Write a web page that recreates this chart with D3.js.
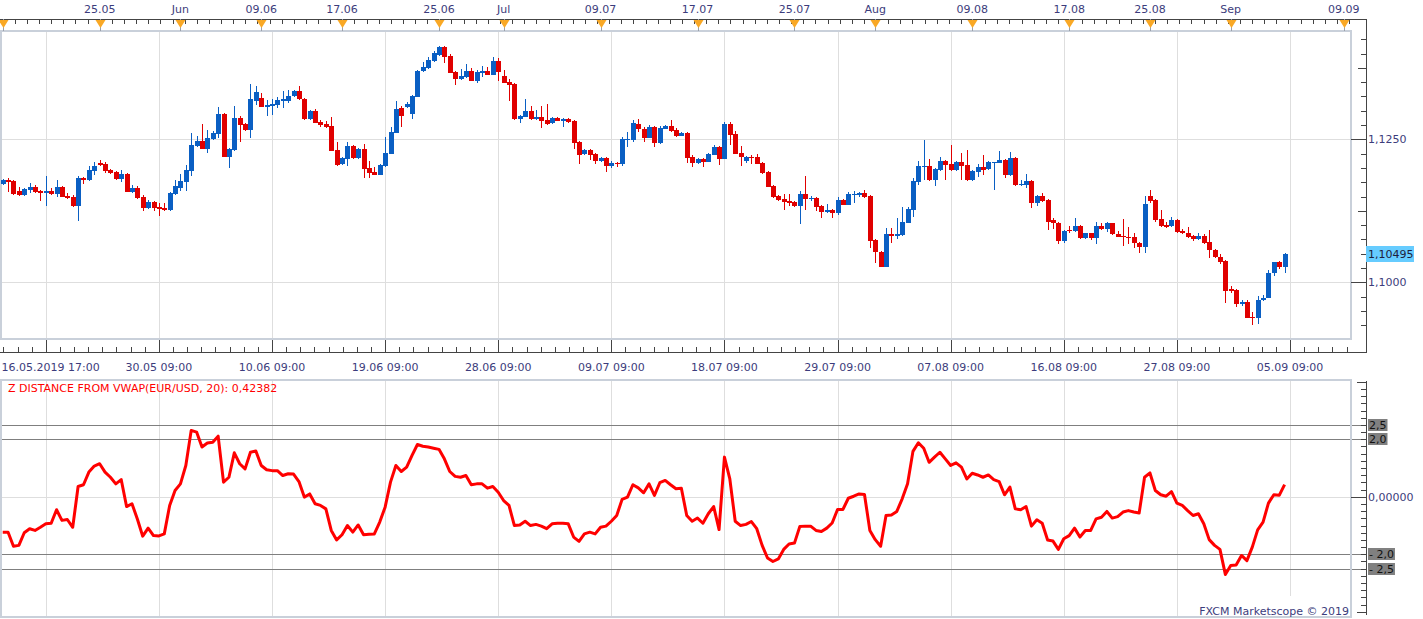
<!DOCTYPE html>
<html><head><meta charset="utf-8">
<script src="https://cdn.jsdelivr.net/npm/d3@7"></script>
<style>
body{margin:0;background:#fff}
svg{display:block}
text{font-family:"DejaVu Sans",Verdana,sans-serif;font-size:11px}
</style>
</head><body>
<svg id="c" width="1423" height="619"></svg>
<script>
// ---------------- DATA ----------------
const opens = [1.11717,1.11787,1.11770,1.11595,1.11525,1.11612,1.11665,1.11595,1.11560,1.11595,1.11542,1.11665,1.11507,1.11490,1.11332,1.11827,1.11787,1.11945,1.12090,1.12067,1.11962,1.11932,1.11805,1.11892,1.11577,1.11647,1.11490,1.11297,1.11407,1.11315,1.11297,1.11262,1.11542,1.11647,1.11752,1.11945,1.12382,1.12470,1.12330,1.12505,1.12592,1.12942,1.12195,1.12312,1.12877,1.12767,1.12662,1.13170,1.13222,1.13070,1.13082,1.13100,1.13175,1.13170,1.13257,1.13345,1.13205,1.12855,1.12995,1.12807,1.12767,1.12732,1.12312,1.12067,1.12160,1.12382,1.12177,1.12330,1.11997,1.11927,1.11880,1.12032,1.12247,1.12615,1.13052,1.13070,1.12937,1.13245,1.13700,1.13747,1.13870,1.13975,1.14120,1.13957,1.13682,1.13555,1.13584,1.13695,1.13525,1.13665,1.13700,1.13630,1.13870,1.13607,1.13507,1.13467,1.12849,1.12895,1.12995,1.12849,1.12884,1.12837,1.12779,1.12872,1.12825,1.12855,1.12820,1.12452,1.12247,1.12312,1.12242,1.12120,1.12172,1.12032,1.12090,1.12072,1.12487,1.12492,1.12767,1.12674,1.12527,1.12720,1.12440,1.12685,1.12737,1.12662,1.12562,1.12610,1.12190,1.12090,1.12155,1.12107,1.12230,1.12365,1.12160,1.12762,1.12592,1.12265,1.12120,1.12190,1.12190,1.12085,1.11932,1.11682,1.11507,1.11455,1.11420,1.11402,1.11332,1.11542,1.11455,1.11472,1.11332,1.11232,1.11262,1.11215,1.11437,1.11355,1.11525,1.11530,1.11565,1.11507,1.10737,1.10527,1.10270,1.10842,1.10812,1.10819,1.11040,1.11262,1.11752,1.12020,1.12032,1.11787,1.11962,1.12120,1.12072,1.11962,1.12102,1.12050,1.11787,1.11932,1.12015,1.11980,1.12090,1.12090,1.12137,1.11875,1.12172,1.11700,1.11700,1.11770,1.11379,1.11507,1.11437,1.11087,1.11029,1.10725,1.10912,1.10895,1.10982,1.10767,1.10854,1.10767,1.10982,1.10924,1.11029,1.10842,1.10812,1.10795,1.10784,1.10679,1.10620,1.11507,1.11437,1.11105,1.11005,1.10982,1.11087,1.10895,1.10865,1.10812,1.10755,1.10807,1.10707,1.10562,1.10445,1.10375,1.09880,1.09862,1.09629,1.09652,1.09395,1.09384,1.09699,1.09727,1.10154,1.10347,1.10259];
const highs = [1.11805,1.11822,1.11787,1.11665,1.11647,1.11735,1.11700,1.11612,1.11857,1.11647,1.11787,1.11682,1.11560,1.11525,1.11857,1.11845,1.12032,1.12102,1.12137,1.12107,1.11980,1.11945,1.11962,1.11910,1.11700,1.11682,1.11525,1.11437,1.11420,1.11390,1.11379,1.11577,1.11787,1.11892,1.12050,1.12610,1.12562,1.12767,1.12662,1.12645,1.13065,1.12960,1.12347,1.13082,1.12907,1.12785,1.13467,1.13432,1.13310,1.13187,1.13210,1.13240,1.13350,1.13362,1.13362,1.13432,1.13222,1.13012,1.13030,1.12837,1.12825,1.12890,1.12452,1.12190,1.12452,1.12400,1.12347,1.12417,1.12120,1.12015,1.12067,1.12540,1.12720,1.13170,1.13082,1.13152,1.13275,1.13712,1.13857,1.13940,1.14045,1.14132,1.14132,1.13992,1.13695,1.13724,1.13812,1.13747,1.13712,1.13782,1.13770,1.13945,1.13917,1.13712,1.13560,1.13485,1.12925,1.13205,1.13082,1.13012,1.13082,1.13117,1.12890,1.12890,1.12872,1.12877,1.12837,1.12470,1.12330,1.12330,1.12260,1.12190,1.12190,1.12120,1.12102,1.12540,1.12627,1.12837,1.12860,1.12715,1.12750,1.12732,1.12732,1.12750,1.12837,1.12702,1.12627,1.12627,1.12225,1.12172,1.12172,1.12260,1.12400,1.12382,1.12807,1.12802,1.12639,1.12382,1.12207,1.12230,1.12242,1.12102,1.11945,1.11700,1.11525,1.11542,1.11542,1.11420,1.11595,1.11857,1.11507,1.11490,1.11350,1.11367,1.11280,1.11484,1.11455,1.11582,1.11595,1.11582,1.11612,1.11525,1.10755,1.10545,1.10942,1.10947,1.11117,1.11320,1.11320,1.11827,1.12125,1.12487,1.12160,1.11997,1.12190,1.12137,1.12400,1.12120,1.12265,1.12312,1.11962,1.12072,1.12225,1.12120,1.12111,1.12295,1.12155,1.12282,1.12190,1.11787,1.11892,1.11787,1.11525,1.11565,1.11455,1.11117,1.11052,1.10912,1.10982,1.11117,1.11000,1.10868,1.10868,1.11052,1.11029,1.11057,1.11043,1.10900,1.11105,1.10959,1.10854,1.10707,1.11507,1.11612,1.11455,1.11262,1.11057,1.11145,1.11105,1.10924,1.10959,1.10825,1.10854,1.10842,1.10912,1.10580,1.10487,1.10387,1.09932,1.09880,1.09687,1.09687,1.09482,1.09757,1.09775,1.10212,1.10361,1.10375,1.10515];
const lows = [1.11700,1.11577,1.11525,1.11507,1.11507,1.11560,1.11560,1.11420,1.11332,1.11525,1.11490,1.11490,1.11455,1.11315,1.11070,1.11717,1.11770,1.11875,1.12032,1.11910,1.11892,1.11787,1.11752,1.11577,1.11560,1.11455,1.11250,1.11280,1.11250,1.11157,1.11245,1.11245,1.11525,1.11595,1.11595,1.11857,1.12365,1.12324,1.12260,1.12487,1.12522,1.12190,1.12002,1.12295,1.12457,1.12645,1.12522,1.13100,1.13065,1.12907,1.12925,1.13047,1.13047,1.13135,1.13240,1.13187,1.12837,1.12837,1.12785,1.12715,1.12697,1.12295,1.12032,1.12050,1.12032,1.12160,1.12160,1.11822,1.11822,1.11875,1.11875,1.12015,1.12242,1.12610,1.12720,1.13047,1.12855,1.13240,1.13682,1.13730,1.13852,1.13957,1.13835,1.13660,1.13455,1.13537,1.13572,1.13520,1.13490,1.13584,1.13625,1.13625,1.13525,1.13485,1.13175,1.12837,1.12785,1.12890,1.12837,1.12837,1.12702,1.12750,1.12767,1.12820,1.12720,1.12785,1.12335,1.12067,1.12225,1.12137,1.12072,1.12102,1.11932,1.12002,1.12015,1.12037,1.12370,1.12452,1.12632,1.12457,1.12522,1.12370,1.12422,1.12680,1.12627,1.12545,1.12557,1.12090,1.12020,1.12072,1.12015,1.12102,1.12225,1.12055,1.12155,1.12405,1.12242,1.12037,1.12090,1.12072,1.12067,1.11892,1.11665,1.11467,1.11420,1.11262,1.11332,1.11323,1.11017,1.11267,1.11420,1.11250,1.11127,1.11215,1.11127,1.11180,1.11350,1.11350,1.11390,1.11490,1.11472,1.10602,1.10340,1.10265,1.10265,1.10690,1.10749,1.10807,1.11035,1.11145,1.11700,1.11787,1.11770,1.11687,1.11945,1.11787,1.11953,1.11945,1.11787,1.11778,1.11778,1.11845,1.11875,1.11962,1.11612,1.12085,1.11827,1.11857,1.11691,1.11691,1.11647,1.11302,1.11332,1.11411,1.10912,1.10924,1.10662,1.10690,1.10854,1.10877,1.10755,1.10755,1.10737,1.10667,1.10912,1.10882,1.10825,1.10790,1.10637,1.10667,1.10592,1.10515,1.10515,1.11385,1.11057,1.10965,1.10956,1.10965,1.10868,1.10842,1.10781,1.10725,1.10737,1.10676,1.10422,1.10431,1.10317,1.09635,1.09815,1.09570,1.09582,1.09372,1.09250,1.09279,1.09675,1.09722,1.10107,1.10224,1.10165];
const closes = [1.11787,1.11752,1.11542,1.11525,1.11630,1.11665,1.11577,1.11560,1.11595,1.11542,1.11665,1.11495,1.11472,1.11332,1.11822,1.11787,1.11962,1.12032,1.12050,1.11950,1.11915,1.11805,1.11892,1.11582,1.11647,1.11472,1.11297,1.11402,1.11297,1.11280,1.11262,1.11560,1.11682,1.11770,1.11962,1.12400,1.12470,1.12330,1.12522,1.12610,1.12942,1.12195,1.12330,1.12877,1.12750,1.12662,1.13199,1.13327,1.13070,1.13100,1.13117,1.13187,1.13199,1.13262,1.13345,1.13199,1.12855,1.12995,1.12790,1.12750,1.12709,1.12300,1.12050,1.12172,1.12382,1.12177,1.12330,1.11980,1.11915,1.11880,1.12050,1.12260,1.12627,1.13030,1.12907,1.13117,1.13257,1.13700,1.13770,1.13887,1.14010,1.14120,1.13945,1.13665,1.13555,1.13607,1.13695,1.13525,1.13682,1.13700,1.13630,1.13870,1.13677,1.13490,1.13455,1.12849,1.12907,1.12995,1.12849,1.12890,1.12825,1.12767,1.12872,1.12825,1.12855,1.12807,1.12440,1.12230,1.12312,1.12230,1.12125,1.12172,1.12032,1.12090,1.12072,1.12505,1.12505,1.12790,1.12674,1.12527,1.12720,1.12440,1.12702,1.12732,1.12645,1.12562,1.12610,1.12177,1.12090,1.12155,1.12107,1.12247,1.12365,1.12160,1.12767,1.12580,1.12247,1.12195,1.12190,1.12172,1.12072,1.11910,1.11670,1.11490,1.11437,1.11407,1.11390,1.11332,1.11542,1.11455,1.11472,1.11320,1.11232,1.11267,1.11215,1.11437,1.11355,1.11542,1.11542,1.11565,1.11490,1.10725,1.10522,1.10270,1.10842,1.10812,1.10842,1.11052,1.11280,1.11770,1.12032,1.12032,1.11787,1.11980,1.12120,1.12050,1.11962,1.12102,1.12032,1.11787,1.11950,1.12015,1.11962,1.12102,1.12102,1.12137,1.11875,1.12172,1.11700,1.11722,1.11770,1.11379,1.11507,1.11420,1.11057,1.11029,1.10725,1.10895,1.10895,1.10982,1.10767,1.10854,1.10767,1.10982,1.10924,1.11029,1.10837,1.10795,1.10784,1.10784,1.10679,1.10620,1.11367,1.11425,1.11087,1.10982,1.10970,1.11087,1.10882,1.10854,1.10795,1.10755,1.10807,1.10690,1.10562,1.10445,1.10357,1.09850,1.09845,1.09629,1.09652,1.09384,1.09384,1.09699,1.09727,1.10154,1.10347,1.10259,1.10495];
const zValues = [-1.23,-1.23,-1.72,-1.69,-1.25,-1.11,-1.17,-1.06,-0.94,-0.92,
 -0.45,-0.82,-0.79,-1.06,0.36,0.42,0.86,1.07,1.15,0.86,
 0.68,0.45,0.60,-0.34,-0.24,-0.77,-1.37,-1.09,-1.35,-1.36,
 -1.29,-0.30,0.22,0.45,1.09,2.31,2.25,1.73,1.87,1.90,
 2.11,0.51,0.68,1.53,1.15,0.97,1.55,1.59,1.09,0.94,
 0.91,0.91,0.74,0.80,0.79,0.53,-0.01,0.10,-0.24,-0.30,
 -0.42,-1.17,-1.50,-1.32,-1.00,-1.23,-0.98,-1.32,-1.30,-1.29,
 -0.88,-0.36,0.51,1.09,0.88,1.03,1.44,1.82,1.76,1.73,
 1.69,1.65,1.32,0.88,0.71,0.68,0.74,0.42,0.45,0.45,
 0.30,0.36,0.16,-0.13,-0.30,-1.00,-0.98,-0.85,-1.00,-0.96,
 -1.02,-1.11,-0.94,-0.92,-0.92,-0.94,-1.40,-1.55,-1.29,-1.23,
 -1.29,-1.06,-1.02,-0.85,-0.65,-0.09,-0.01,0.42,0.31,0.14,
 0.45,0.05,0.49,0.57,0.42,0.28,0.30,-0.65,-0.85,-0.74,
 -0.92,-0.59,-0.34,-1.14,1.38,0.62,-0.85,-1.00,-0.96,-0.86,
 -1.11,-1.69,-2.13,-2.25,-2.16,-1.83,-1.64,-1.61,-1.03,-1.02,
 -1.02,-1.17,-1.21,-1.09,-0.91,-0.44,-0.44,-0.05,0.02,0.10,
 0.08,-1.17,-1.49,-1.72,-0.65,-0.63,-0.51,-0.07,0.45,1.58,
 1.88,1.69,1.20,1.38,1.55,1.32,1.09,1.18,1.03,0.62,
 0.82,0.76,0.68,0.76,0.60,0.53,0.07,0.34,-0.42,-0.45,
 -0.34,-1.02,-0.80,-0.92,-1.50,-1.54,-1.83,-1.46,-1.35,-1.09,
 -1.40,-1.17,-1.17,-0.77,-0.71,-0.51,-0.74,-0.69,-0.53,-0.48,
 -0.53,-0.56,0.68,0.83,0.22,0.07,0.02,0.18,-0.22,-0.30,
 -0.48,-0.65,-0.59,-0.94,-1.49,-1.69,-1.83,-2.70,-2.39,-2.37,
 -2.04,-2.22,-1.75,-1.15,-0.88,-0.22,0.07,0.05,0.42382];

// bar index of each date marker
const topTickIndex  = [0, 18, 33, 48, 63, 81, 93, 111, 129, 147, 162, 180, 198, 213, 228, 249];
const topTickLabels = ["", "25.05", "Jun", "09.06", "17.06", "25.06", "Jul", "09.07", "17.07", "25.07", "Aug", "09.08", "17.08", "25.08", "Sep", "09.09"];
const bottomTickIndex  = [8, 29, 50, 71, 92, 113, 134, 155, 176, 197, 218, 239];
const bottomTickLabels = ["16.05.2019 17:00","30.05 09:00","10.06 09:00","19.06 09:00","28.06 09:00","09.07 09:00","18.07 09:00","29.07 09:00","07.08 09:00","16.08 09:00","27.08 09:00","05.09 09:00"];
const priceLabelLevels = [1.1000, 1.1250];
const lastPrice = 1.10495;
const zLevels = [2.5, 2.0, -2.0, -2.5];
const zLevelLabels = ["2,5", "2,0", "- 2,0", "- 2,5"];
const indicatorTitle = "Z DISTANCE FROM VWAP(EUR/USD, 20): 0,42382";

// ---------------- LAYOUT ----------------
const TXT = "#3c3c7c";
const AXC = "#444";
const GRID = "#dedede";
const FRAME = "#c9d0da";
const TOP = {x0: 0, x1: 1351, y0: 31, y1: 339};
const BOT = {x0: 0, x1: 1351, y0: 380, y1: 617};
const AX = 1366;

const svg = d3.select("#c");
const x = d3.scaleLinear().domain([0, 238]).range([2.7, 1284.6]);
const yP = d3.scaleLinear().domain([1.1000, 1.1250]).range([282.3, 139.3]);
const yZ = d3.scaleLinear().domain([-2, 2]).range([554.3, 439.3]);
const px = v => Math.round(v) + 0.5;

const defs = svg.append("defs");
defs.append("clipPath").attr("id","clipTop").append("rect")
  .attr("x",TOP.x0+1).attr("y",TOP.y0+1).attr("width",TOP.x1-TOP.x0-2).attr("height",TOP.y1-TOP.y0-2);
defs.append("clipPath").attr("id","clipBot").append("rect")
  .attr("x",BOT.x0+1).attr("y",BOT.y0+1).attr("width",BOT.x1-BOT.x0-2).attr("height",BOT.y1-BOT.y0-2);

// ---------- TOP PANEL ----------
const gTop = svg.append("g").attr("shape-rendering","crispEdges");
gTop.selectAll("line.vg").data(bottomTickIndex).join("line")
  .attr("x1",d=>px(x(d))).attr("x2",d=>px(x(d))).attr("y1",TOP.y0).attr("y2",TOP.y1)
  .attr("stroke",GRID);
gTop.selectAll("line.hg").data(priceLabelLevels).join("line")
  .attr("x1",TOP.x0).attr("x2",TOP.x1).attr("y1",d=>px(yP(d))).attr("y2",d=>px(yP(d)))
  .attr("stroke",GRID);
gTop.append("rect").attr("x",TOP.x0+1).attr("y",TOP.y0).attr("width",TOP.x1-TOP.x0-1).attr("height",TOP.y1-TOP.y0)
  .attr("fill","none").attr("stroke",FRAME).attr("stroke-width",2);

// candles
const candles = d3.range(opens.length).map(i => ({i, o:opens[i], h:highs[i], l:lows[i], c:closes[i]}));
const gC = svg.append("g").attr("clip-path","url(#clipTop)").attr("shape-rendering","crispEdges");
const col = d => d.c > d.o ? "#0a5fc3" : "#e00000";
gC.selectAll("line.wick").data(candles).join("line")
  .attr("x1",d=>Math.round(x(d.i))+0.5).attr("x2",d=>Math.round(x(d.i))+0.5)
  .attr("y1",d=>Math.round(yP(d.h))).attr("y2",d=>Math.round(yP(d.l)))
  .attr("stroke",col).attr("stroke-width",1);
gC.selectAll("rect.body").data(candles).join("rect")
  .attr("x",d=>Math.round(x(d.i))-2).attr("width",5)
  .attr("y",d=>Math.round(yP(Math.max(d.o,d.c))))
  .attr("height",d=>Math.max(1, Math.round(yP(Math.min(d.o,d.c))) - Math.round(yP(Math.max(d.o,d.c)))))
  .attr("fill",col);

// top date axis
const gA = svg.append("g").attr("shape-rendering","crispEdges");
gA.append("line").attr("x1",0).attr("x2",AX).attr("y1",19.5).attr("y2",19.5).attr("stroke",AXC);
gA.selectAll("line.tmin").data(d3.range(0, 252, 2.252)).join("line")
  .attr("x1",d=>px(x(d))).attr("x2",d=>px(x(d))).attr("y1",19).attr("y2",24).attr("stroke",AXC);
gA.selectAll("line.tmaj").data(topTickIndex).join("line")
  .attr("x1",d=>px(x(d))).attr("x2",d=>px(x(d))).attr("y1",19).attr("y2",31).attr("stroke","#9aa0aa");
svg.selectAll("path.tri").data(topTickIndex).join("path")
  .attr("d",d=>{const c=Math.round(x(d))+0.5; return `M${c-5},20 L${c+5},20 L${c},28 Z`;})
  .attr("fill","#f9a825");
svg.selectAll("text.tl").data(topTickIndex).join("text")
  .attr("x",d=>x(d)).attr("y",13).attr("text-anchor","middle").attr("fill",TXT)
  .text((d,k)=>topTickLabels[k]);

// right price axis
gA.append("line").attr("x1",AX+0.5).attr("x2",AX+0.5).attr("y1",19).attr("y2",353).attr("stroke",AXC);
const pTicks = d3.range(0, 21).map(k => +(1.0925 + k*0.0025).toFixed(4)).filter(p => yP(p) > TOP.y0 && yP(p) < TOP.y1);
gA.selectAll("line.pt").data(pTicks).join("line")
  .attr("x1",p=>{const m = Math.round(p*10000); return AX - (m % 250 === 0 ? 15 : (m % 125 === 0 ? 8 : 5));})
  .attr("x2",AX).attr("y1",p=>px(yP(p))).attr("y2",p=>px(yP(p))).attr("stroke",AXC);
svg.selectAll("text.pl").data(priceLabelLevels).join("text")
  .attr("x",AX+2).attr("y",p=>yP(p)).attr("dy","0.36em").attr("fill",TXT)
  .text(p=>d3.format(".4f")(p).replace(".",","));
svg.append("rect").attr("x",AX).attr("y",Math.round(yP(lastPrice))-8).attr("width",48).attr("height",16).attr("fill","#66ccff");
svg.append("text").attr("x",AX+2).attr("y",yP(lastPrice)).attr("dy","0.36em").attr("fill","#1e1e3c")
  .text(d3.format(".5f")(lastPrice).replace(".",","));

// bottom date axis
gA.append("line").attr("x1",0).attr("x2",AX).attr("y1",352.5).attr("y2",352.5).attr("stroke",AXC);
const bStep = 21/8;
const bMinor = d3.range(8 - 3*bStep, 252, bStep).filter(d => x(d) >= 0 && x(d) <= AX);
gA.selectAll("line.bmin").data(bMinor).join("line")
  .attr("x1",d=>px(x(d))).attr("x2",d=>px(x(d))).attr("y1",347).attr("y2",352).attr("stroke",AXC);
gA.selectAll("line.bmaj").data(bottomTickIndex).join("line")
  .attr("x1",d=>px(x(d))).attr("x2",d=>px(x(d))).attr("y1",340).attr("y2",352).attr("stroke",AXC);
svg.selectAll("text.bl").data(bottomTickIndex).join("text")
  .attr("y",370.5).attr("fill",TXT).text((d,k)=>bottomTickLabels[k])
  .each(function(d){ const w=this.getComputedTextLength(); let s=x(d)-w/2; if(s<1.5) s=1.5; d3.select(this).attr("x",s); });

// ---------- LOWER PANEL ----------
const gB = svg.append("g").attr("shape-rendering","crispEdges");
gB.selectAll("line.vg").data(bottomTickIndex).join("line")
  .attr("x1",d=>px(x(d))).attr("x2",d=>px(x(d))).attr("y1",BOT.y0).attr("y2",BOT.y1)
  .attr("stroke",GRID);
gB.append("line").attr("x1",BOT.x0).attr("x2",BOT.x1).attr("y1",px(yZ(0))).attr("y2",px(yZ(0))).attr("stroke",GRID);
gB.selectAll("line.lv").data(zLevels).join("line")
  .attr("x1",0).attr("x2",AX).attr("y1",d=>px(yZ(d))).attr("y2",d=>px(yZ(d))).attr("stroke","#7f7f7f");
gB.append("rect").attr("x",BOT.x0+1).attr("y",BOT.y0).attr("width",BOT.x1-BOT.x0-1).attr("height",BOT.y1-BOT.y0)
  .attr("fill","none").attr("stroke",FRAME).attr("stroke-width",2);

svg.append("g").attr("clip-path","url(#clipBot)").append("path")
  .datum(zValues)
  .attr("d", d3.line().x((d,i)=>x(i)).y(d=>yZ(d)))
  .attr("fill","none").attr("stroke","#ff0000").attr("stroke-width",3).attr("stroke-linejoin","round");

svg.append("text").attr("x",8).attr("y",392).attr("fill","#ff0000").text(indicatorTitle);

// right z axis
gB.append("line").attr("x1",AX+0.5).attr("x2",AX+0.5).attr("y1",381).attr("y2",615).attr("stroke",AXC);
const zTicks = d3.range(-16, 17).map(k => k/4);
gB.selectAll("line.zt").data(zTicks).join("line")
  .attr("x1",z=> AX - (z===0 ? 15 : (Math.abs(z)===4 ? 9 : 5)))
  .attr("x2",AX).attr("y1",z=>px(yZ(z))).attr("y2",z=>px(yZ(z))).attr("stroke",AXC);
svg.append("text").attr("x",AX+2).attr("y",yZ(0)).attr("dy","0.36em").attr("fill",TXT).text("0,00000");
zLevels.forEach((v,k)=>{
  const t = svg.append("text").attr("x",AX+3).attr("y",yZ(v)).attr("dy","0.36em").attr("fill","#111").text(zLevelLabels[k]);
  const w = t.node().getComputedTextLength();
  svg.insert("rect","text").attr("x",AX+2).attr("y",Math.round(yZ(v))-6).attr("width",w+2).attr("height",12).attr("fill","#808080");
});

// copyright
svg.append("rect").attr("x",1190).attr("y",596).attr("width",160).attr("height",20).attr("fill","#fff");
svg.append("text").attr("x",1349).attr("y",615).attr("text-anchor","end").attr("fill",TXT).text("FXCM Marketscope © 2019");
</script>
</body></html>
